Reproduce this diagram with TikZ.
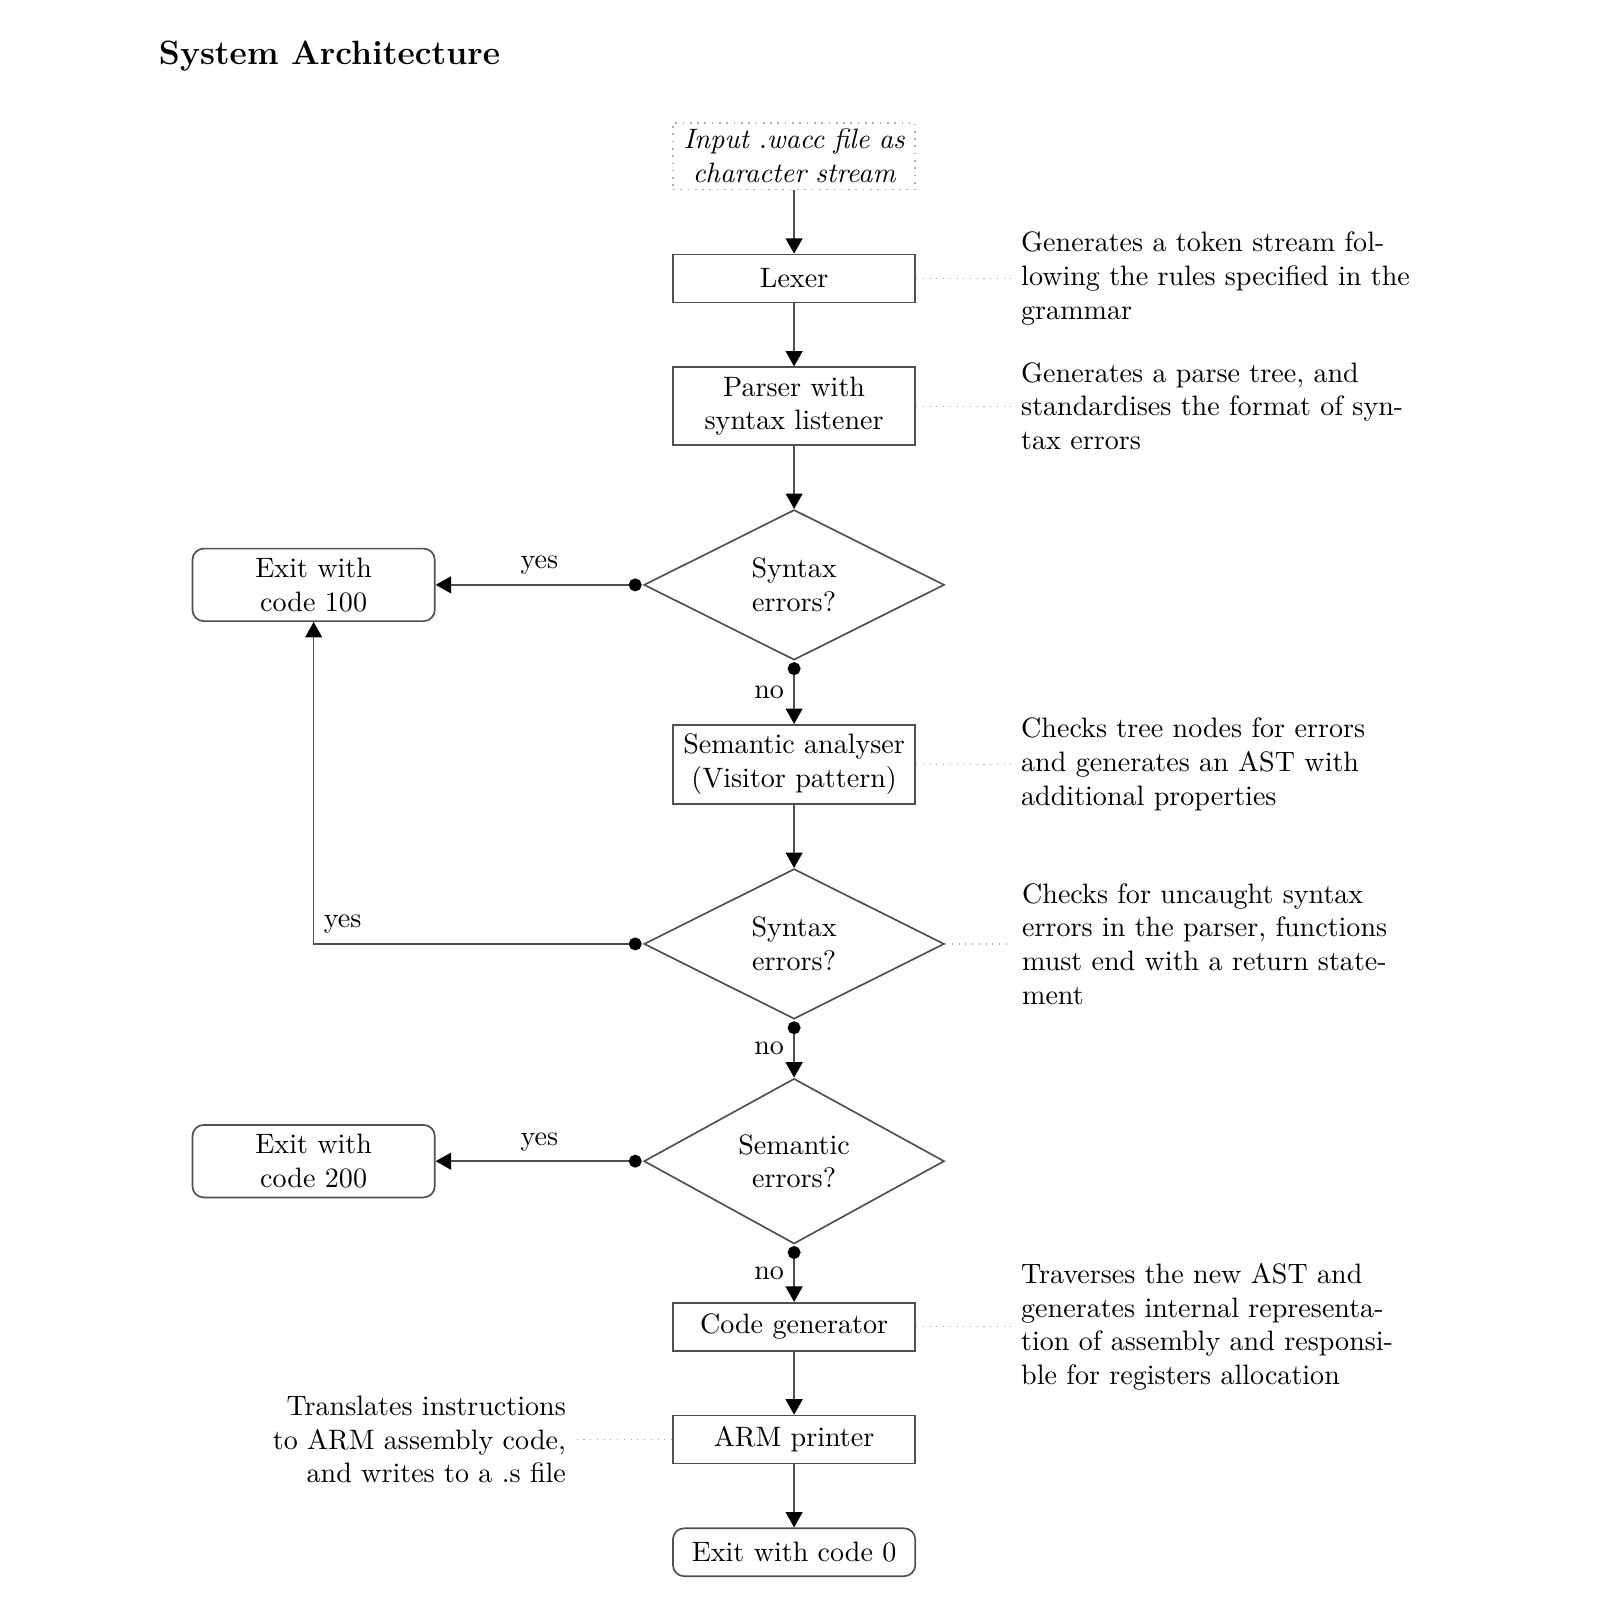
\documentclass[tikz,border=0pt]{standalone}
\usepackage{tikz}
\usetikzlibrary{shapes,arrows.meta,positioning}
\definecolor{linegray}{RGB}{80,80,80}
\definecolor{dotgray}{RGB}{175,175,175}

\begin{document}
\begin{tikzpicture}[
    node distance=22.5pt,
    stage/.style={rectangle, draw=linegray, line width=0.6pt, text width=2.8cm, minimum height=0.6cm, align=center},
    source/.style={stage, dotted, draw=dotgray, inner ysep=2.3pt, font=\itshape},
    exitbox/.style={stage, rounded corners=4pt},
    decision/.style={diamond, draw=linegray, line width=0.6pt, minimum width=107pt, minimum height=53.5pt, inner sep=0pt, align=center},
    note/.style={text width=4.9cm, align=left},
    flow/.style={-{Triangle[length=5.5pt,width=6pt,black]}, draw=linegray, line width=0.6pt},
    branch/.style={{Circle[length=4.6pt,black]}-{Triangle[length=5.5pt,width=6pt,black]}, shorten <=0.5pt, draw=linegray, line width=0.6pt},
    noteline/.style={draw=dotgray, dotted}
]
    \useasboundingbox (0,0) rectangle (570pt,-570pt);

    % Title
    \node[anchor=base west, font=\large\bfseries] (title) at (53.1pt,-22.9pt) {System Architecture};

    % Main pipeline
    \node[source] (input) at (282.9pt,-55.6pt) {Input .wacc file as character stream};
    \node[stage, below=22.6pt of input] (lexer) {Lexer};
    \node[stage, below=of lexer] (parser) {Parser with syntax listener};
    \node[decision, below=of parser] (synchk) {Syntax\\errors?};
    \node[stage, below=of synchk] (semantic) {Semantic analyser (Visitor pattern)};
    \node[decision, below=of semantic] (retchk) {Syntax\\errors?};
    \node[decision, below=20.6pt of retchk] (semchk) {Semantic\\errors?};
    \node[stage, below=20.4pt of semchk] (codegen) {Code generator};
    \node[stage, below=of codegen] (printer) {ARM printer};
    \node[exitbox, below=of printer] (exitzero) {Exit with code 0};

    % Exit codes
    \node[exitbox, left=73.9pt of synchk] (exitsyn) {Exit with\\code 100};
    \node[exitbox, left=73.9pt of semchk] (exitsem) {Exit with\\code 200};

    % Notes
    \node[note, right=33.9pt of lexer] (lexnote) {Generates a token stream following the rules specified in the grammar};
    \node[note, right=33.9pt of parser] (parsenote) {Generates a parse tree, and standardises the format of syntax errors};
    \node[note, right=33.9pt of semantic] (semnote) {Checks tree nodes for errors and generates an AST with additional properties};
    \node[note, right=23.9pt of retchk] (retnote) {Checks for uncaught syntax errors in the parser, functions must end with a return statement};
    \node[note, right=33.9pt of codegen] (codenote) {Traverses the new AST and generates internal representation of assembly and responsible for registers allocation};
    \node[align=right, left=34.3pt of printer] (printnote) {Translates instructions\\to ARM assembly code,\\and writes to a .s file};

    % Flow
    \draw[flow] (input) -- (lexer);
    \draw[flow] (lexer) -- (parser);
    \draw[flow] (parser) -- (synchk);
    \draw[branch] (synchk.west) -- node[above] {yes} (exitsyn);
    \draw[branch] (synchk.south) -- node[left] {no} (semantic);
    \draw[flow] (semantic) -- (retchk);
    \draw[branch] (retchk.west) -| node[pos=0.5, above right] {yes} (exitsyn);
    \draw[branch] (retchk.south) -- node[left] {no} (semchk);
    \draw[branch] (semchk.west) -- node[above] {yes} (exitsem);
    \draw[branch] (semchk.south) -- node[left] {no} (codegen);
    \draw[flow] (codegen) -- (printer);
    \draw[flow] (printer) -- (exitzero);

    % Note links
    \draw[noteline] (lexer) -- (lexnote);
    \draw[noteline] (parser) -- (parsenote);
    \draw[noteline] (semantic) -- (semnote);
    \draw[noteline] (retchk) -- (retnote);
    \draw[noteline] (codegen) -- (codenote);
    \draw[noteline] (printer) -- (printnote);
\end{tikzpicture}
\end{document}
